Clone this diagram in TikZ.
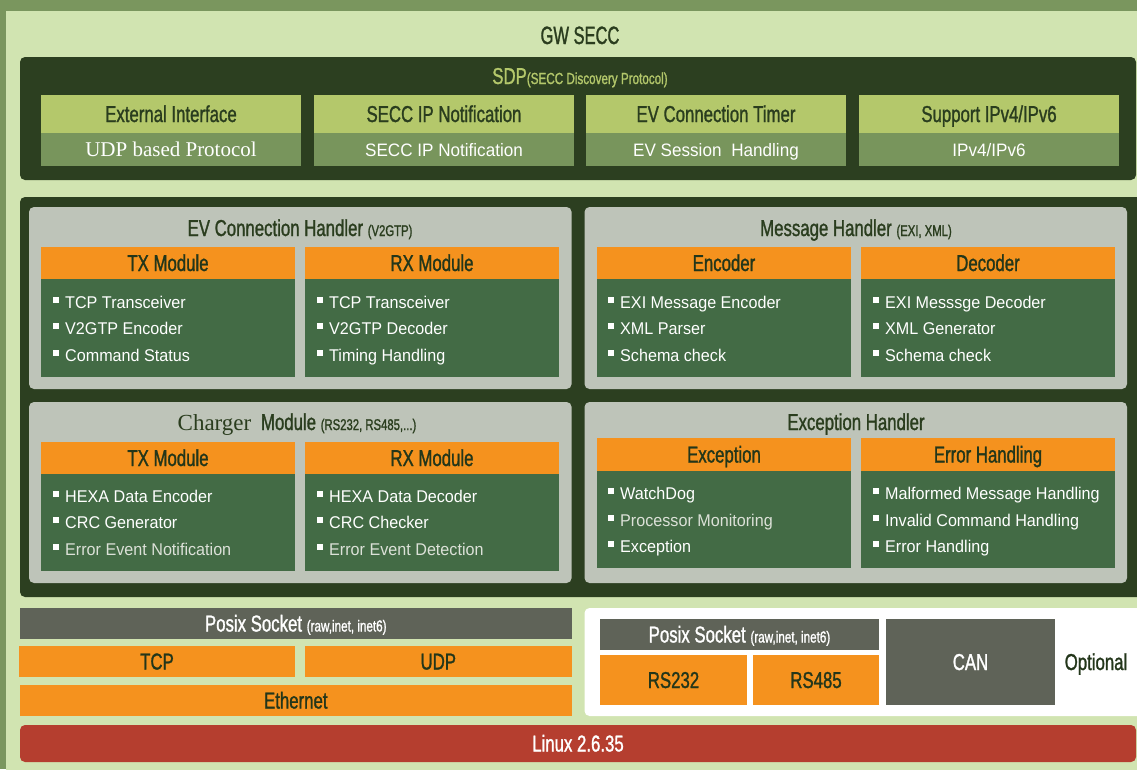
\documentclass[tikz,border=0pt]{standalone}
\usepackage{fontspec}
\setmainfont{Liberation Sans}
\newfontfamily\cond[FakeStretch=0.73,FakeBold=1.2]{Liberation Sans}
\newfontfamily\condn[FakeStretch=0.66,FakeBold=1.2]{Liberation Sans}
\newfontfamily\bodyf[FakeStretch=0.95]{Liberation Sans}
\newfontfamily\serf{Liberation Serif}
\definecolor{outerG}{HTML}{7A965E}
\definecolor{lightG}{HTML}{D1E4B1}
\definecolor{darkG}{HTML}{2C3F20}
\definecolor{sdpTop}{HTML}{B4C86B}
\definecolor{sdpBot}{HTML}{78955C}
\definecolor{panelGray}{HTML}{BEC4B9}
\definecolor{orangeA}{HTML}{F5921E}
\definecolor{bodyG}{HTML}{436B45}
\definecolor{txtDark}{HTML}{2A3D1E}
\definecolor{hdrText}{HTML}{23361A}
\definecolor{posixG}{HTML}{5F6358}
\definecolor{linuxR}{HTML}{B53E2F}
\definecolor{dimW}{HTML}{DCE1D8}
\newcommand\bx[7]{\node[#2, minimum width={(#5-#3)*1pt}, minimum height={(#6-#4)*1pt}] (#1) at ({(#3+#5)/2},{(#4+#6)/2}) {#7};}
\newcommand\sqb{\rule[5.5pt]{6pt}{6pt}\hspace{6pt}}
\newcommand\smallc{\fontsize{15.5}{17}\selectfont}
\tikzset{
  box/.style={inner sep=0pt, outer sep=0pt, draw=none},
  capc/.style={text height=16pt, text depth=0pt},
  sdptop/.style={box, capc, fill=sdpTop, text=txtDark, font=\cond\fontsize{23}{26}\selectfont},
  sdpbot/.style={box, fill=sdpBot, text=white, text height=13pt, text depth=0pt, font=\bodyf\fontsize{18}{20}\selectfont},
  panel/.style={box, fill=panelGray, rounded corners=5pt},
  ptitle/.style={inner sep=0pt, capc, text=txtDark, font=\cond\fontsize{23}{26}\selectfont},
  hdr/.style={box, capc, fill=orangeA, text=hdrText, font=\cond\fontsize{23}{26}\selectfont},
  bodyb/.style={box, fill=bodyG},
  item/.style={inner sep=0pt, anchor=base west, text=white, font=\bodyf\fontsize{17}{20}\selectfont},
  posix/.style={box, capc, fill=posixG, text=white, font=\cond\fontsize{23}{26}\selectfont},
  obox/.style={box, capc, fill=orangeA, text=hdrText, font=\cond\fontsize{23}{26}\selectfont},
}
\begin{document}
\begin{tikzpicture}[x=1pt,y=-1pt]
\useasboundingbox (0,0) rectangle (1137,769);
\fill[outerG] (0,0) rectangle (1137,769);
\bx{bg}{box, fill=lightG}{6}{11}{1150}{780}{}
\node[ptitle, font=\condn\fontsize{25}{28}\selectfont, text height=18pt] (title) at (580,35) {GW SECC};

% SDP
\bx{sdp}{box, fill=darkG, rounded corners=5pt}{20}{57}{1136}{180}{}
\node[inner sep=0pt, capc, text=sdpTop, font=\cond\fontsize{23}{26}\selectfont] (sdpt) at (580,76) {SDP{\fontsize{16}{18}\selectfont(SECC Discovery Protocol)}};
\bx{c1t}{sdptop}{41}{95}{301}{133}{External Interface}
\bx{c2t}{sdptop}{314}{95}{574}{133}{SECC IP Notification}
\bx{c3t}{sdptop}{586}{95}{846}{133}{EV Connection Timer}
\bx{c4t}{sdptop}{859}{95}{1119}{133}{Support IPv4/IPv6}
\bx{c1b}{sdpbot}{41}{133}{301}{166}{\serf\fontsize{21}{24}\selectfont UDP based Protocol}
\bx{c2b}{sdpbot}{314}{133}{574}{166}{SECC IP Notification}
\bx{c3b}{sdpbot}{586}{133}{846}{166}{EV Session\hspace{5pt} Handling}
\bx{c4b}{sdpbot}{859}{133}{1119}{166}{IPv4/IPv6}

% main block
\bx{main}{box, fill=darkG, rounded corners=5pt}{20}{197}{1150}{597}{}

% EV Connection Handler
\bx{evp}{panel}{29}{207}{571.6}{389}{}
\node[ptitle] (evt) at (300,228) {EV Connection Handler {\smallc(V2GTP)}};
\bx{evtxh}{hdr}{41}{247}{295}{279}{TX Module}
\bx{evrxh}{hdr}{305}{247}{559}{279}{RX Module}
\bx{evtxb}{bodyb}{41}{279}{295}{377}{}
\bx{evrxb}{bodyb}{305}{279}{559}{377}{}
\node[item] (e1) at (53,308) {\sqb TCP Transceiver};
\node[item] (e2) at (53,334) {\sqb V2GTP Encoder};
\node[item] (e3) at (53,361) {\sqb Command Status};
\node[item] (e4) at (317,308) {\sqb TCP Transceiver};
\node[item] (e5) at (317,334) {\sqb V2GTP Decoder};
\node[item] (e6) at (317,361) {\sqb Timing Handling};

% Message Handler
\bx{mhp}{panel}{584.5}{207}{1127}{389}{}
\node[ptitle] (mht) at (856,228) {Message Handler {\smallc(EXI, XML)}};
\bx{ench}{hdr}{597}{247}{851}{279}{Encoder}
\bx{dech}{hdr}{861}{247}{1115}{279}{Decoder}
\bx{encb}{bodyb}{597}{279}{851}{377}{}
\bx{decb}{bodyb}{861}{279}{1115}{377}{}
\node[item] (m1) at (608,308) {\sqb EXI Message Encoder};
\node[item] (m2) at (608,334) {\sqb XML Parser};
\node[item] (m3) at (608,361) {\sqb Schema check};
\node[item] (m4) at (873,308) {\sqb EXI Messsge Decoder};
\node[item] (m5) at (873,334) {\sqb XML Generator};
\node[item] (m6) at (873,361) {\sqb Schema check};

% Charger Module
\bx{chp}{panel}{29}{402}{571.6}{583}{}
\node[ptitle] (cht) at (297,422) {{\serf\fontsize{23}{25}\selectfont Charger}\hspace{5pt} Module {\smallc(RS232, RS485,...)}};
\bx{chtxh}{hdr}{41}{442}{295}{474}{TX Module}
\bx{chrxh}{hdr}{305}{442}{559}{474}{RX Module}
\bx{chtxb}{bodyb}{41}{474}{295}{571}{}
\bx{chrxb}{bodyb}{305}{474}{559}{571}{}
\node[item] (h1) at (53,502) {\sqb HEXA Data Encoder};
\node[item] (h2) at (53,528) {\sqb CRC Generator};
\node[item] (h3) at (53,555) {\sqb \textcolor{dimW}{Error Event Notification}};
\node[item] (h4) at (317,502) {\sqb HEXA Data Decoder};
\node[item] (h5) at (317,528) {\sqb CRC Checker};
\node[item] (h6) at (317,555) {\sqb \textcolor{dimW}{Error Event Detection}};

% Exception Handler
\bx{exp}{panel}{584.5}{402}{1127}{583}{}
\node[ptitle] (ext) at (856,422) {Exception Handler};
\bx{exh}{hdr}{597}{438}{851}{471}{Exception}
\bx{errh}{hdr}{861}{438}{1115}{471}{Error Handling}
\bx{exb}{bodyb}{597}{471}{851}{568}{}
\bx{errb}{bodyb}{861}{471}{1115}{568}{}
\node[item] (x1) at (608,499) {\sqb WatchDog};
\node[item] (x2) at (608,526) {\sqb \textcolor{dimW}{Processor Monitoring}};
\node[item] (x3) at (608,552) {\sqb Exception};
\node[item] (x4) at (873,499) {\sqb Malformed Message Handling};
\node[item] (x5) at (873,526) {\sqb Invalid Command Handling};
\node[item] (x6) at (873,552) {\sqb Error Handling};

% bottom left stack
\bx{posixa}{posix}{20}{608}{571.6}{639}{Posix Socket {\fontsize{16}{18}\selectfont(raw,inet, inet6)}}
\bx{tcp}{obox}{19}{646}{295}{677}{TCP}
\bx{udp}{obox}{305}{646}{571.6}{677}{UDP}
\bx{eth}{obox}{20}{685}{571.6}{716}{Ethernet}

% optional block
\bx{opt}{box, fill=white, rounded corners=5pt}{584.5}{608}{1150}{716}{}
\bx{posixb}{posix}{600}{619}{879}{650}{Posix Socket {\fontsize{16}{18}\selectfont(raw,inet, inet6)}}
\bx{rs232}{obox}{600}{655}{747}{705}{RS232}
\bx{rs485}{obox}{753}{655}{879}{705}{RS485}
\bx{can}{posix}{886}{619}{1055}{705}{CAN}
\node[ptitle, text=hdrText] (optl) at (1096,662) {Optional};

% Linux
\bx{linux}{box, capc, fill=linuxR, rounded corners=5pt, text=white, font=\cond\fontsize{23}{26}\selectfont}{20}{725}{1136}{762}{Linux 2.6.35}
\end{tikzpicture}
\end{document}
